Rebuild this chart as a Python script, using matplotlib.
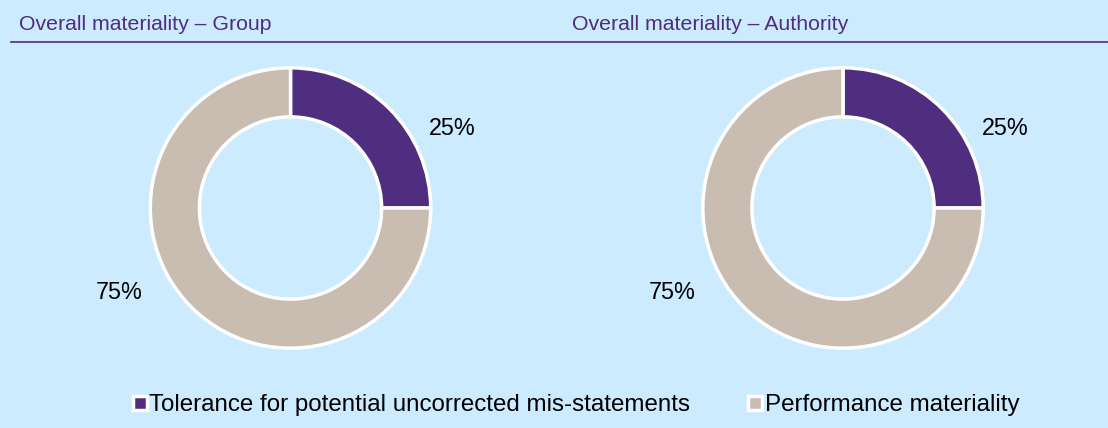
import matplotlib.pyplot as plt
from matplotlib.lines import Line2D

plt.rcParams['font.family'] = ['Liberation Sans', 'DejaVu Sans']

# data
titles = ['Overall materiality – Group', 'Overall materiality – Authority']
categories = ['Tolerance for potential uncorrected mis-statements', 'Performance materiality']
shares = [[25, 75], [25, 75]]
colors = ['#4F2D7F', '#C8BDB0']
bg = '#CCEBFF'

W, H = 1108, 428
fig = plt.figure(figsize=(W / 100, H / 100), dpi=100, facecolor=bg)

centers = [290.5, 843]
r = 143
cy = 208
title_x = [19, 572]

for i, vals in enumerate(shares):
    cx = centers[i]
    ax = fig.add_axes([(cx - r) / W, 1 - (cy + r) / H, 2 * r / W, 2 * r / H])
    ax.pie(vals, colors=colors, startangle=90, counterclock=False, radius=1,
           wedgeprops=dict(width=0.35, edgecolor='white', linewidth=2.5))
    ax.set_xlim(-1.02, 1.02)
    ax.set_ylim(-1.02, 1.02)
    ax.set_aspect('equal')
    ax.axis('off')
    # value labels
    ax.text(1.155, 0.566, f'{vals[0]}%', ha='center', va='center', fontsize=16.8, color='black', clip_on=False)
    ax.text(-1.22, -0.6, f'{vals[1]}%', ha='center', va='center', fontsize=16.8, color='black', clip_on=False)
    fig.text(title_x[i] / W, 1 - 24 / H, titles[i], ha='left', va='center', fontsize=15.3, color='#4F2D7F')

fig.add_artist(Line2D([11 / W, 1], [1 - 42 / H, 1 - 42 / H], color='#4F2D7F', linewidth=1.2))

handles = [Line2D([], [], marker='s', linestyle='none', markersize=10, markerfacecolor=c,
                  markeredgecolor='white', markeredgewidth=2.5) for c in colors]
fig.legend(handles, categories, loc='center', bbox_to_anchor=(576 / W, 1 - 405 / H), ncol=2,
           frameon=False, fontsize=17.4, handlelength=0.6, handletextpad=0.1, columnspacing=2.4)

fig.savefig('out.png', dpi=100, facecolor=bg)
